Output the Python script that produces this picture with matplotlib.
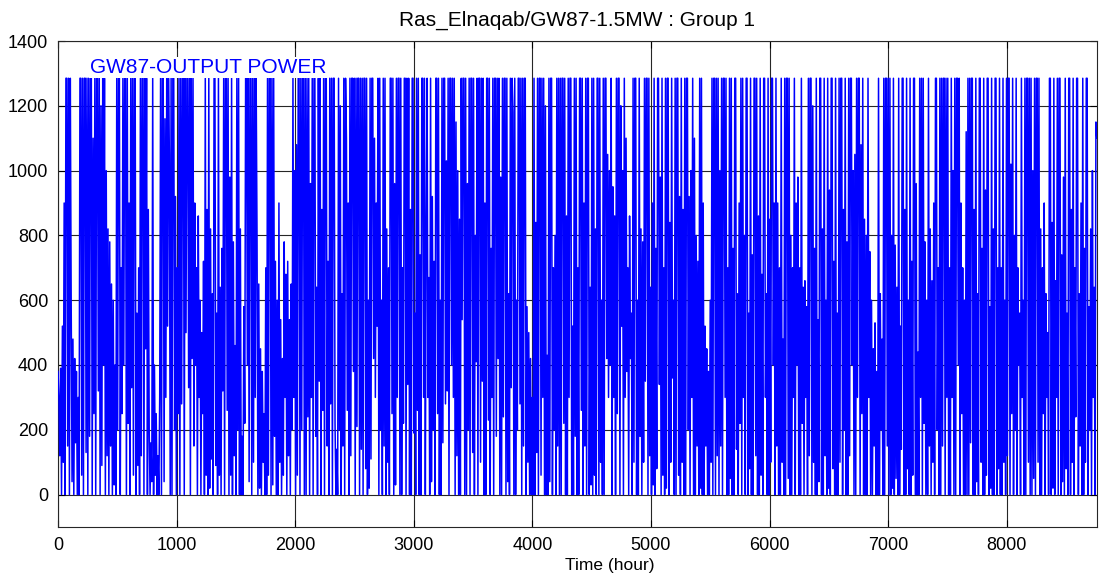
import numpy as np
import matplotlib
matplotlib.use("Agg")
import matplotlib.pyplot as plt

plt.rcParams['font.family'] = ['Liberation Sans', 'DejaVu Sans']

# Output power (kW) over one year, as successive highs and lows,
# grouped by roughly month-long stretches.
power_m01 = [380, 300, 120, 390, 0, 520, 100, 900, 0, 1285, 1285, 150, 1285, 0, 1285, 600,
             40, 480, 0, 420, 160, 380, 0, 300, 0, 1285, 1285, 60, 1285, 0, 1285, 1285,
             130, 1285, 0, 1285, 180, 1285, 1285, 0, 1100, 250, 1285, 0, 1285, 1285, 320, 1285,
             0, 1200, 90, 1285, 400, 1285, 0, 1000, 120, 820, 0, 780, 150, 650, 0, 600,
             30, 400, 0, 1285, 200, 1285, 1285, 0, 700, 250, 1285, 400, 1285, 1285, 0, 1285,
             220, 900, 0, 1285, 330, 1285, 60, 1285, 1285, 0, 560, 90, 700, 0, 1285, 120,
             1285, 1285, 0, 1285, 450, 1285, 0, 880, 200, 0, 160, 40, 1285, 0]
power_m02 = [400, 60, 250, 0, 120, 0, 300, 1285, 0, 1285, 1285, 40, 1160, 300, 1285, 520,
             1285, 1050, 0, 1285, 0, 1285, 1285, 200, 920, 0, 700, 250, 1285, 0, 1285, 280,
             1285, 1285, 0, 1285, 500, 1285, 1285, 330, 1285, 0, 1285, 420, 1285, 150, 900, 400,
             700, 0, 860, 300, 600, 0, 500, 250, 720, 0, 1285, 60, 880, 0, 1285, 20,
             820, 110, 620, 0, 1285, 1285, 90, 560, 0, 1285, 60, 640, 0, 760, 320, 1285,
             0, 1285, 1285, 260, 1285, 0, 980, 60, 1285, 0, 780, 120, 460, 0, 1285, 200,
             1285, 0, 820, 0, 180, 0, 580, 220, 1285, 1285, 400]
power_m03 = [1285, 40, 1285, 1285, 0, 1285, 100, 1285, 300, 1285, 810, 0, 650, 20, 450, 0,
             380, 100, 250, 0, 700, 0, 1285, 60, 1285, 1285, 0, 1285, 30, 1285, 180, 720,
             0, 600, 0, 900, 100, 540, 0, 420, 60, 780, 300, 680, 0, 720, 120, 540,
             0, 650, 200, 1285, 300, 1000, 0, 1080, 60, 1285, 1285, 0, 1285, 200, 1285, 1285,
             0, 1285, 0, 1285, 240, 1285, 0, 960, 300, 1285, 0, 1285, 1285, 180, 640, 0,
             1285, 350, 1285, 0, 880, 260, 1285, 0, 1285, 1285, 150, 720, 0, 1285, 280, 1285,
             0, 1285, 1285, 220, 0, 140, 0]
power_m04 = [1285, 200, 1200, 0, 620, 150, 1285, 0, 1285, 1100, 260, 900, 0, 1285, 120, 1285,
             1285, 380, 1285, 0, 1285, 210, 1285, 1285, 0, 1285, 140, 1285, 0, 1285, 1285, 80,
             1285, 0, 600, 20, 1285, 110, 1285, 1285, 420, 1100, 300, 900, 520, 1285, 0, 1285,
             200, 600, 0, 1285, 150, 1285, 0, 820, 100, 700, 0, 1285, 1285, 250, 1285, 0,
             960, 30, 1285, 300, 1285, 1285, 0, 1285, 0, 700, 220, 1285, 1285, 0, 1285, 340,
             1285, 0, 880, 0, 1285, 1285, 190, 560, 0, 1285, 260, 1285, 0, 740, 0, 1285,
             1285, 300, 1285, 0, 820]
power_m05 = [1285, 300, 670, 0, 1285, 40, 920, 200, 720, 0, 1285, 1285, 250, 1285, 0, 600,
             0, 1285, 160, 1285, 1285, 280, 1030, 320, 1285, 0, 1285, 1285, 400, 1285, 300, 1285,
             0, 1150, 120, 1000, 0, 850, 0, 1285, 540, 1285, 1285, 0, 1285, 0, 960, 200,
             1285, 0, 1285, 1285, 130, 1285, 0, 800, 410, 1285, 0, 1285, 1285, 100, 1285, 350,
             1285, 0, 900, 0, 1285, 1285, 230, 1285, 0, 760, 300, 1285, 0, 1285, 1285, 180,
             1285, 420, 1285, 0, 980, 0, 1285, 240, 1285, 1285, 0, 1285, 40, 620, 0, 1285,
             330, 1285]
power_m06 = [1180, 0, 1285, 0, 600, 200, 1285, 1285, 280, 1285, 0, 1285, 150, 1285, 1285, 0,
             580, 100, 500, 0, 420, 0, 300, 0, 1285, 0, 840, 130, 1285, 0, 1285, 1285,
             60, 1285, 300, 1285, 0, 1200, 0, 430, 0, 1285, 40, 1285, 1285, 0, 700, 200,
             800, 0, 1285, 150, 1285, 0, 1285, 0, 1285, 1285, 220, 1285, 0, 860, 0, 1285,
             300, 1285, 1285, 0, 520, 0, 1285, 180, 1285, 0, 700, 0, 1285, 1285, 260, 1285,
             0, 900, 150, 1285, 0, 1285, 1285, 0, 640, 30, 1285, 0, 1285, 60, 820, 0,
             1285, 1285, 0]
power_m07 = [1285, 100, 600, 0, 1285, 0, 1285, 1285, 420, 1050, 300, 1000, 400, 1285, 0, 950,
             300, 860, 0, 1285, 250, 1285, 1285, 0, 1200, 520, 1000, 0, 1285, 300, 1100, 380,
             700, 0, 860, 420, 560, 0, 1285, 100, 1285, 1285, 0, 600, 0, 1285, 180, 820,
             0, 780, 100, 1285, 350, 1285, 1285, 0, 1285, 120, 640, 0, 900, 30, 1285, 0,
             760, 80, 1285, 1285, 340, 980, 0, 1285, 60, 700, 0, 1285, 20, 1285, 1285, 0,
             840, 100, 1285, 360, 600, 0, 1285, 0, 1285, 1285, 60, 920, 0, 1285, 100]
power_m08 = [880, 0, 1285, 0, 1285, 1285, 200, 920, 0, 1000, 300, 1285, 0, 1100, 0, 800,
             150, 720, 0, 1285, 20, 1285, 0, 900, 0, 520, 150, 450, 0, 380, 0, 600,
             100, 1285, 0, 1285, 1285, 0, 1285, 120, 1285, 0, 1000, 150, 1285, 0, 1285, 1285,
             300, 1285, 0, 700, 0, 1285, 50, 1285, 0, 760, 0, 1285, 1285, 140, 620, 0,
             900, 220, 1285, 0, 1285, 300, 800, 0, 1285, 1285, 0, 560, 80, 1285, 0, 740,
             0, 1285, 1285, 120, 1285, 0, 860, 0, 1285, 60, 680, 0, 1285]
power_m09 = [1285, 300, 620, 0, 1285, 0, 850, 100, 1285, 1285, 400, 900, 0, 1285, 150, 900,
             0, 700, 0, 1285, 100, 480, 0, 1285, 0, 1285, 1285, 50, 1285, 0, 800, 0,
             700, 300, 1285, 0, 900, 400, 980, 0, 700, 0, 1285, 220, 640, 0, 660, 300,
             580, 0, 1285, 120, 1285, 1285, 0, 1200, 100, 760, 0, 1285, 0, 540, 40, 1285,
             1285, 0, 820, 0, 1285, 120, 600, 0, 1285, 20, 940, 0, 1285, 1285, 80, 720,
             0, 1285, 0, 560, 0, 1285, 100, 1285, 1285, 0, 880, 200]
power_m10 = [1285, 0, 780, 0, 1285, 120, 1285, 1285, 400, 1000, 0, 1050, 0, 1285, 300, 1285,
             1285, 0, 1080, 250, 1285, 0, 850, 0, 800, 0, 1285, 300, 750, 0, 600, 0,
             450, 150, 530, 0, 380, 0, 1285, 0, 620, 200, 480, 0, 1285, 0, 1285, 1285,
             150, 1285, 0, 1285, 0, 800, 20, 1285, 0, 770, 50, 640, 0, 1285, 0, 520,
             140, 1285, 1285, 0, 880, 0, 1285, 80, 600, 0, 1285, 0, 720, 60, 1285, 1285,
             0, 960, 0, 440, 0, 1285, 300, 1285, 0]
power_m11 = [1285, 220, 780, 0, 600, 0, 1285, 150, 820, 0, 660, 100, 900, 0, 1285, 1285,
             200, 700, 0, 1285, 0, 1285, 150, 1285, 1285, 0, 1285, 300, 1285, 0, 700, 0,
             1285, 300, 1000, 0, 1285, 0, 1285, 1285, 400, 1285, 0, 900, 250, 700, 0, 600,
             0, 1120, 0, 1285, 0, 1285, 160, 1285, 1285, 0, 880, 0, 1285, 40, 620, 0,
             1285, 1285, 100, 760, 0, 1285, 0, 940, 60, 1285, 1285, 0, 580, 20, 1285, 0,
             820, 0, 1285, 1285, 0, 700, 80]
power_m12 = [1285, 0, 700, 0, 1285, 100, 600, 0, 1285, 120, 1285, 1285, 0, 1020, 250, 1285,
             0, 800, 200, 1285, 0, 700, 400, 560, 0, 1285, 300, 600, 0, 1285, 0, 1285,
             1285, 100, 1285, 0, 1285, 0, 1000, 50, 1285, 0, 1285, 1285, 100, 1285, 0, 820,
             0, 700, 250, 900, 0, 620, 300, 500, 0, 1285, 1285, 0, 840, 20, 1285, 0,
             660, 300, 1285, 0, 1285, 1285, 0, 740, 40, 980, 0, 1285, 80, 560, 0, 1285,
             1285, 0, 880, 100, 1285, 0, 700, 240, 1285, 1285, 0, 620, 150, 900, 0, 1285,
             0, 760, 100, 1285, 1285, 0, 580, 200, 820, 0, 1000, 300, 640, 0, 1150, 1100]

x_ticks = [0, 1000, 2000, 3000, 4000, 5000, 6000, 7000, 8000]
y_ticks = [0, 200, 400, 600, 800, 1000, 1200, 1400]

power = np.concatenate([power_m01, power_m02, power_m03, power_m04, power_m05, power_m06,
                        power_m07, power_m08, power_m09, power_m10, power_m11, power_m12])
hours = np.linspace(0, 8760, len(power))

fig = plt.figure(figsize=(10.99, 5.86), dpi=100)
ax = fig.add_axes([0.0528, 0.1007, 0.9452, 0.8293])

ax.plot(hours, power, color='#0000ff', linewidth=1.1, zorder=3)

ax.set_xlim(0, 8760)
ax.set_ylim(-100, 1400)
ax.set_xticks(x_ticks)
ax.set_yticks(y_ticks)
ax.grid(True, color='#262626', linewidth=0.8, linestyle='-', zorder=1)
ax.set_axisbelow(True)

ax.tick_params(direction='in', length=5, width=0.8, labelsize=13, pad=7,
               top=True, right=True, colors='black')
for s in ax.spines.values():
    s.set_color('#262626')
    s.set_linewidth(0.8)

ax.set_xlabel('Time (hour)', fontsize=12.5)
ax.xaxis.set_label_coords(0.531, -0.064, transform=ax.transAxes)
ax.set_title('Ras_Elnaqab/GW87-1.5MW : Group 1', fontsize=15, pad=11)

ax.text(0.031, 0.965, 'GW87-OUTPUT POWER', transform=ax.transAxes, color='#0000ff',
        fontsize=15, ha='left', va='top', zorder=4,
        bbox=dict(facecolor='white', edgecolor='none', pad=1))

fig.savefig('out.png', dpi=100)
